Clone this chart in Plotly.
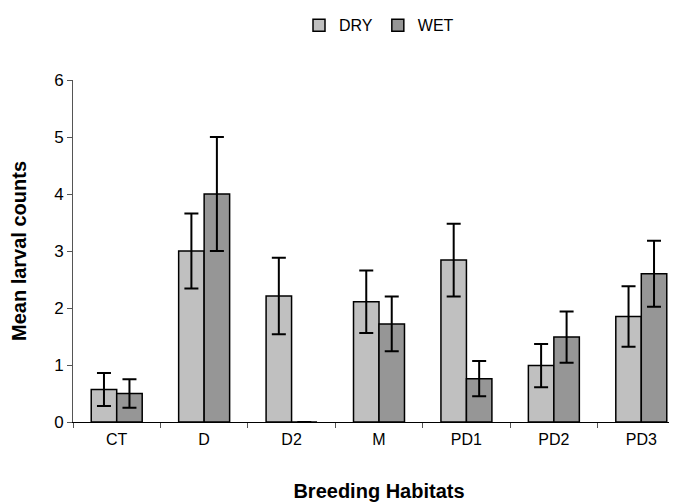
import plotly.graph_objects as go

categories = ["CT", "D", "D2", "M", "PD1", "PD2", "PD3"]
dry_values = [0.57, 3.0, 2.21, 2.11, 2.84, 0.99, 1.85]
dry_errors = [0.29, 0.66, 0.67, 0.55, 0.64, 0.38, 0.53]
wet_values = [0.50, 4.0, 0.0, 1.72, 0.76, 1.49, 2.60]
wet_errors = [0.25, 1.0, 0.0, 0.48, 0.31, 0.45, 0.58]
y_ticks = [0, 1, 2, 3, 4, 5, 6]

font_family = "Liberation Sans, Arial, sans-serif"

fig = go.Figure()
fig.add_trace(go.Bar(
    name="DRY", x=categories, y=dry_values,
    marker=dict(color="#C0C0C0", line=dict(color="black", width=1.5)),
    error_y=dict(type="data", array=dry_errors, visible=True,
                 color="black", thickness=2, width=7),
))
fig.add_trace(go.Bar(
    name="WET", x=categories, y=wet_values,
    marker=dict(color="#969696", line=dict(color="black", width=1.5)),
    error_y=dict(type="data", array=[e if e > 0 else None for e in wet_errors], visible=True,
                 color="black", thickness=2, width=7),
))

fig.update_layout(
    width=677, height=503,
    margin=dict(l=65, r=0, t=72, b=89, autoexpand=False),
    paper_bgcolor="white", plot_bgcolor="white",
    barmode="group", bargap=0.417, bargroupgap=0,
    font=dict(family=font_family, size=16, color="black"),
    legend=dict(orientation="h", x=0.5, xanchor="center", xref="paper",
                y=1.16, yanchor="middle", font=dict(size=16),
                itemwidth=30, traceorder="normal", tracegroupgap=0),
    showlegend=True,
)
fig.update_xaxes(
    range=[-0.5, 6.5], showline=True, linecolor="black", linewidth=1,
    ticks="outside", tickson="boundaries", ticklen=5, tickcolor="#555555",
    tickfont=dict(size=16), automargin=False, ticklabelstandoff=3,
    title=dict(text="<b>Breeding Habitats</b>", font=dict(size=20), standoff=36),
)
fig.update_yaxes(
    range=[0, 6], tickvals=y_ticks, showline=True, linecolor="#555555", linewidth=1,
    ticks="outside", ticklen=5, tickcolor="#555555", showgrid=False, zeroline=False,
    tickfont=dict(size=17), automargin=False,
    title=dict(text="<b>Mean larval counts</b>", font=dict(size=20), standoff=22),
)

fig.write_html("out.html")
